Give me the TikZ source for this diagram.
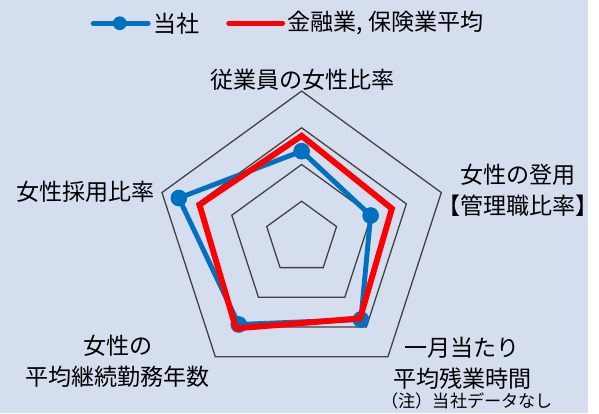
\documentclass[tikz,border=0pt]{standalone}
\usepackage{fontspec}
\setmainfont{Noto Sans CJK JP}
\usetikzlibrary{positioning}
\definecolor{bgblue}{HTML}{D5DEEF}
\definecolor{corpblue}{HTML}{0070C0}
\definecolor{avgred}{HTML}{FF0000}
\definecolor{gridgray}{HTML}{404040}

\begin{document}
\begin{tikzpicture}[x=1pt,y=1pt,
	ring/.style={draw=gridgray,line width=1.3pt},
	corpline/.style={draw=corpblue,line width=5pt,line join=round},
	avgline/.style={draw=avgred,line width=6pt,line join=miter},
	dot/.style={circle,fill=corpblue,inner sep=0pt,minimum size=17pt},
	lbl/.style={font=\fontsize{23.5}{31}\selectfont,inner sep=0pt,align=center},
	notelbl/.style={font=\fontsize{17.5}{19}\selectfont,inner sep=0pt}]
			\fill[bgblue] (0,0) rectangle (599,421);
			\coordinate (c) at (307.3,178.6);
			% grid rings
			\foreach \r in {37.4,74.8,112.2,149.6}
				\draw[ring,shift={(c)}] (90:\r) -- (18:\r) -- (-54:\r) -- (-126:\r) -- (162:\r) -- cycle;
			% company
			\path (c) ++(90:88.4) coordinate (b1);
			\path (c) ++(18:73.9) coordinate (b2);
			\path (c) ++(-54:102.7) coordinate (b3);
			\path (c) ++(-126:109) coordinate (b4);
			\path (c) ++(162:131.5) coordinate (b5);
			\draw[corpline] (b1) -- (b2) -- (b3) -- (b4) -- (b5) -- cycle;
			\node[dot] at (b1) {};
			\node[dot] at (b2) {};
			\node[dot] at (b3) {};
			\node[dot] at (b4) {};
			\node[dot] at (b5) {};
			% industry average
			\path (c) ++(90:104) coordinate (r1);
			\path (c) ++(18:96.7) coordinate (r2);
			\path (c) ++(-54:101.3) coordinate (r3);
			\path (c) ++(-126:113.9) coordinate (r4);
			\path (c) ++(162:109.4) coordinate (r5);
			\draw[avgline] (r1) -- (r2) -- (r3) -- (r4) -- (r5) -- cycle;
			% axis labels
			\node[lbl] (top) at (308,340) {従業員の女性比率};
			\node[lbl] (right) at (528,227) {女性の登用\\【管理職比率】};
			\node[lbl] (lowright) at (471,51) {一月当たり\\平均残業時間};
			\node[notelbl] (note) at (476,13) {（注）当社データなし};
			\node[lbl] (lowleft) at (120,53) {女性の\\平均継続勤務年数};
			\node[lbl] (left) at (87,226) {女性採用比率};
			% legend
			\coordinate (lb1) at (95,397.3);
			\coordinate (lb2) at (151,397.3);
			\draw[draw=corpblue,line width=5pt,line cap=round] (lb1) -- (lb2);
			\node[dot,minimum size=14pt] (lbdot) at (122,397.3) {};
			\node[lbl,right=5pt of lb2] (corp) {当社};
			\coordinate (lr1) at (233,397.3);
			\coordinate (lr2) at (288,397.3);
			\draw[draw=avgred,line width=5pt,line cap=round] (lr1) -- (lr2);
			\node[lbl,right=5pt of lr2] (avg) {金融業, 保険業平均};
			\end{tikzpicture}
\end{document}
